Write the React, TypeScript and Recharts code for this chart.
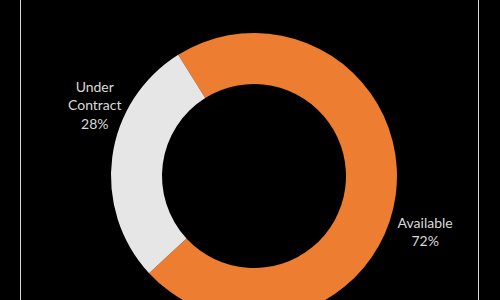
import React from 'react';
import { PieChart, Pie, Cell } from 'recharts';

const categories = ['Available', 'Under Contract'];
const shares = [72, 28];
const sliceColors = ['#ED7D31', '#E6E6E6'];

const pieData = categories.map((name, i) => ({ name, value: shares[i] }));

// label placement (angle in degrees, distance from centre), Excel "best fit" style
const labelSpots: Record<string, { angle: number; dist: number }> = {
  Available: { angle: -19, dist: 181 },
  'Under Contract': { angle: 157, dist: 173 },
};

const RADIAN = Math.PI / 180;

const renderLabel = (props: any) => {
  const { cx, cy, name, percent } = props;
  const spot = labelSpots[name];
  const x = cx + spot.dist * Math.cos(spot.angle * RADIAN);
  const y = cy - spot.dist * Math.sin(spot.angle * RADIAN);
  const lines = name === 'Under Contract' ? ['Under', 'Contract'] : [name];
  lines.push(`${Math.round(percent * 100)}%`);
  const lineH = 18.5;
  const top = y - ((lines.length - 1) * lineH) / 2 - 4;
  return (
    <text
      x={x}
      y={top}
      fill="#D9D9D9"
      fontSize={14}
      fontFamily="Lato, 'Open Sans', sans-serif"
      textAnchor="middle"
      dominantBaseline="central"
    >
      {lines.map((l, i) => (
        <tspan key={i} x={x} y={top + i * lineH}>
          {l}
        </tspan>
      ))}
    </text>
  );
};

export default function App() {
  return (
    <div style={{ position: 'fixed', left: 0, top: 0, width: 500, height: 300, background: '#000' }}>
      <div
        style={{
          position: 'absolute',
          left: 20,
          top: 0,
          width: 457,
          height: 300,
          borderLeft: '1.5px solid #D9D9D9',
          borderRight: '1.5px solid #D9D9D9',
        }}
      />
      <div style={{ position: 'absolute', left: 0, top: 0 }}>
        <PieChart width={500} height={300}>
          <Pie
            data={pieData}
            dataKey="value"
            nameKey="name"
            cx={249}
            cy={171}
            innerRadius={92}
            outerRadius={143}
            startAngle={122}
            endAngle={-238}
            stroke="none"
            label={renderLabel}
            labelLine={false}
            isAnimationActive={false}
          >
            {pieData.map((entry, index) => (
              <Cell key={`cell-${index}`} fill={sliceColors[index]} />
            ))}
          </Pie>
        </PieChart>
      </div>
    </div>
  );
}
